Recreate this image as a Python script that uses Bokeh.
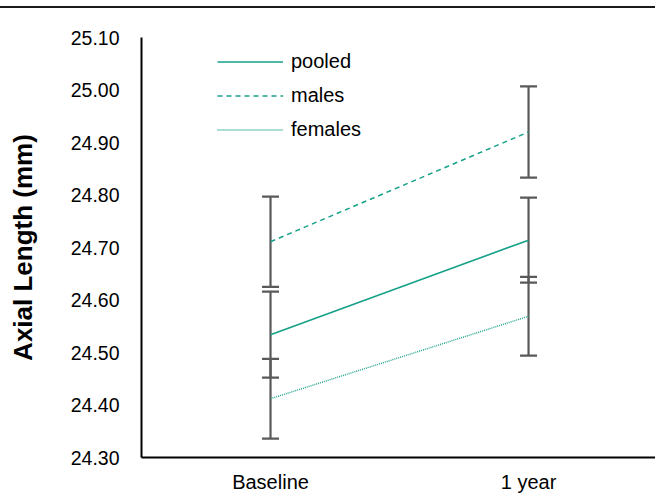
from bokeh.plotting import figure
from bokeh.models import (FixedTicker, Range1d, Legend, LegendItem, Whisker,
                          ColumnDataSource, CustomJSTickFormatter, GlobalInlineStyleSheet)
from bokeh.embed import file_html
from bokeh.resources import INLINE

categories = ["Baseline", "1 year"]
pooled_mean = [24.534, 24.714]
pooled_err = [0.082, 0.081]
males_mean = [24.711, 24.920]
males_err = [0.086, 0.087]
females_mean = [24.412, 24.569]
females_err = [0.076, 0.075]
y_ticks = [24.30, 24.40, 24.50, 24.60, 24.70, 24.80, 24.90, 25.00, 25.10]

FONT = "Liberation Sans"
TEAL = "#15a088"
TEAL_DOT = "#1fa48d"
GREY = "#595959"

xs = list(range(len(categories)))

p = figure(width=655, height=496, output_backend="svg", toolbar_location=None,
           x_range=Range1d(-0.5, 1.492), y_range=Range1d(24.30, 25.10),
           min_border_top=37, min_border_left=141, min_border_right=0,
           min_border_bottom=39)
p.outline_line_color = None
p.grid.grid_line_color = None
p.background_fill_color = "white"
p.border_fill_color = "white"

series = [
    ("pooled", pooled_mean, pooled_err, TEAL, "solid", 1.6),
    ("males", males_mean, males_err, TEAL, "5 4", 1.5),
    ("females", females_mean, females_err, TEAL_DOT, "1 1", 1.4),
]

items = []
for name, m, e, col, dash, lw in series:
    src = ColumnDataSource(dict(x=xs, y=m,
                                lo=[a - b for a, b in zip(m, e)],
                                hi=[a + b for a, b in zip(m, e)]))
    w = Whisker(source=src, base="x", upper="hi", lower="lo",
                line_color=GREY, line_width=2.2)
    for head in (w.upper_head, w.lower_head):
        head.size = 17
        head.line_color = GREY
        head.line_width = 2.2
    p.add_layout(w)
    r = p.line("x", "y", source=src, line_color=col, line_width=lw, line_dash=dash)
    items.append(LegendItem(label=name, renderers=[r]))

legend = Legend(items=items, location=(76, 316), glyph_width=66, glyph_height=23,
                spacing=11, padding=0, margin=0, label_standoff=8,
                border_line_alpha=0, background_fill_alpha=0,
                label_text_font=FONT, label_text_font_size="20px",
                label_text_color="#000000", label_height=23)
p.add_layout(legend)

p.yaxis.ticker = FixedTicker(ticks=y_ticks)
p.yaxis.formatter = CustomJSTickFormatter(code="return tick.toFixed(2);")
p.yaxis.axis_line_width = 2
p.yaxis.axis_line_color = "#000000"
p.yaxis.major_tick_line_color = None
p.yaxis.minor_tick_line_color = None
p.yaxis.major_label_text_font = FONT
p.yaxis.major_label_text_font_size = "19.5px"
p.yaxis.major_label_text_color = "#000000"
p.yaxis.major_label_standoff = 16
p.yaxis.axis_label = "Axial Length (mm)"
p.yaxis.axis_label_text_font = FONT
p.yaxis.axis_label_text_font_size = "26px"
p.yaxis.axis_label_text_font_style = "bold"
p.yaxis.axis_label_text_color = "#000000"
p.yaxis.axis_label_standoff = 30

p.xaxis.ticker = FixedTicker(ticks=xs)
p.xaxis.major_label_overrides = {i: c for i, c in zip(xs, categories)}
p.xaxis.axis_line_width = 2
p.xaxis.axis_line_color = "#000000"
p.xaxis.major_tick_line_color = None
p.xaxis.minor_tick_line_color = None
p.xaxis.major_label_text_font = FONT
p.xaxis.major_label_text_font_size = "20px"
p.xaxis.major_label_text_color = "#000000"
p.xaxis.major_label_standoff = 7

p.stylesheets = [GlobalInlineStyleSheet(css=(
    "html,body{margin:0;padding:0;overflow:hidden;}"
    "body::before{content:'';position:fixed;left:0;top:6px;width:655px;"
    "height:2px;background:#1a1a1a;z-index:10;}"))]

open("out.html", "w").write(file_html(p, INLINE))
